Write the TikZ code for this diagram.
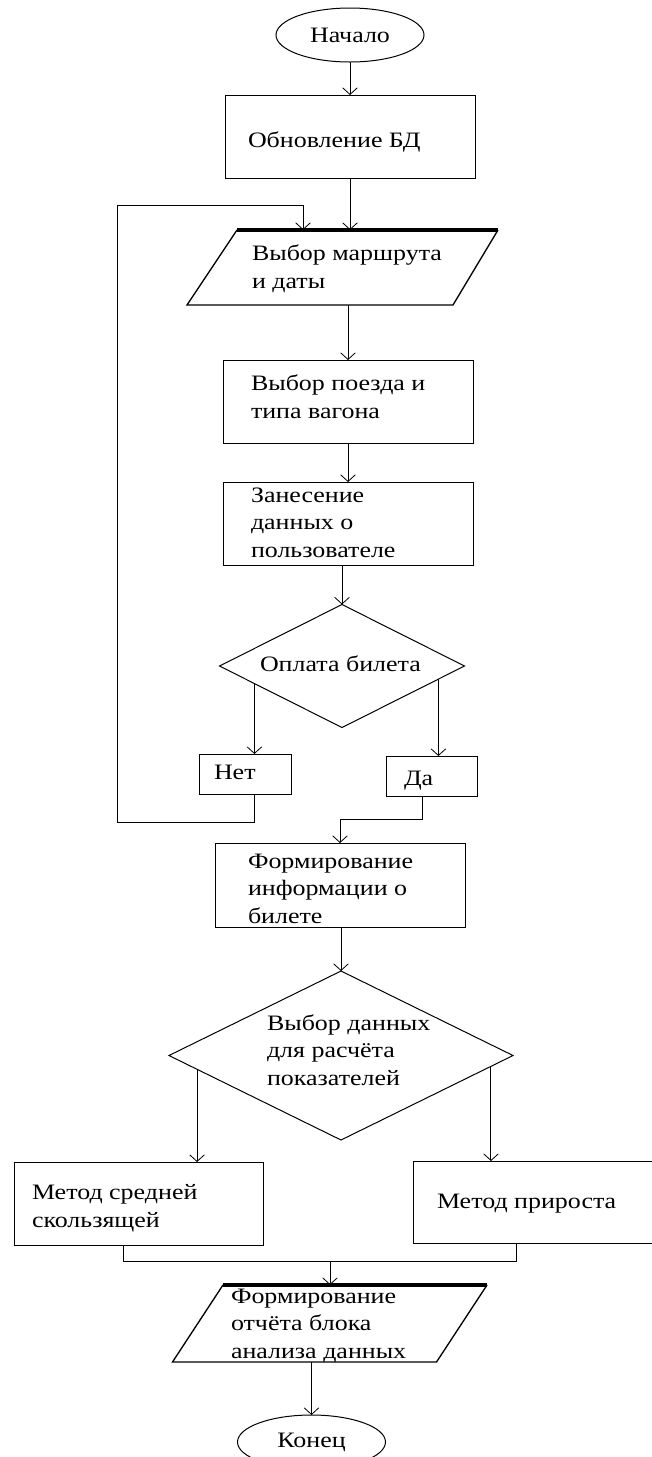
\documentclass[tikz,border=0pt]{standalone}
\usepackage{fontspec}
\setmainfont{Liberation Serif}
\newfontfamily\chartfont{Liberation Serif}[FakeStretch=1.18]
\usetikzlibrary{shapes.geometric,arrows.meta,calc}
\begin{document}
\begin{tikzpicture}[x=0.75pt,y=-0.75pt,
  line width=0.75pt,
  every node/.style={inner sep=0pt, outer sep=0pt},
  arr/.style={-{Straight Barb[length=5pt,width=11pt,line width=0.6pt]}},
  proc/.style={draw, rectangle, minimum width=187.5pt, minimum height=62.25pt},
  term/.style={draw, ellipse, minimum width=111pt, minimum height=40.5pt,
    font=\chartfont\fontsize{16.5}{20.6}\selectfont},
  cond/.style={draw, diamond},
  small/.style={draw, rectangle, minimum width=69pt, minimum height=30pt},
  lbl/.style={anchor=base west, align=left, font=\chartfont\fontsize{16.5}{20.6}\selectfont},
  iobox/.style={rectangle},
  iotop/.style={line width=3pt},
  ioside/.style={line width=1pt},
]
\useasboundingbox (0,0) rectangle (652,1457);

% --- blocks (multi-line labels are placed by the baseline of their last line) ---
\node[term] (start) at (350,35) {Начало};

\node[proc] (b1) at (350,136.5) {};
\node[lbl] (t1) at (248,147) {Обновление БД};

\node[iobox, minimum width=233.25pt, minimum height=56.25pt] (p1) at (342.5,267.5) {};
\draw[ioside] ($(p1.north west)+(50,0)$) -- (p1.south west)
  -- ($(p1.south east)+(-45,0)$) -- (p1.north east);
\draw[iotop] ($(p1.north west)+(50,0)$) -- (p1.north east);
\node[lbl] (t2) at (252,288) {Выбор маршрута\\и даты};

\node[proc] (b2) at (348,401.5) {};
\node[lbl] (t3) at (251,418) {Выбор поезда и\\типа вагона};

\node[proc] (b3) at (348,523.5) {};
\node[lbl] (t4) at (251,557) {Занесение\\данных о\\пользователе};

\node[cond, minimum width=183.75pt, minimum height=92.25pt] (d1) at (342,666) {};
\node[lbl] (t5) at (260,671) {Оплата билета};

\node[small] (n1) at (245,774) {};
\node[lbl] (t6) at (214,779) {Нет};

\node[small, minimum width=68.25pt] (y1) at (431.5,776) {};
\node[lbl] (t7) at (404,785) {Да};

\node[proc, minimum height=63pt] (b4) at (340,885) {};
\node[lbl] (t8) at (248,923) {Формирование\\информации о\\билете};

\node[cond, minimum width=258pt, minimum height=126.75pt] (d2) at (341,1055.5) {};
\node[lbl] (t9) at (267,1085) {Выбор данных\\для расчёта\\показателей};

\node[proc, minimum width=187pt] (m1) at (139.25,1203.5) {};
\node[lbl] (t10) at (32,1227) {Метод средней\\скользящей};

\node[proc, minimum height=61.5pt] (m2) at (538,1202) {};
\node[lbl] (t11) at (437,1208) {Метод прироста};

\node[iobox, minimum width=235.9pt, minimum height=57.75pt] (p2) at (329.75,1323.5) {};
\draw[ioside] ($(p2.north west)+(50.5,0)$) -- (p2.south west)
  -- ($(p2.south east)+(-50.5,0)$) -- (p2.north east);
\draw[iotop] ($(p2.north west)+(50.5,0)$) -- (p2.north east);
\node[lbl] (t12) at (231,1358) {Формирование\\отчёта блока\\анализа данных};

\node[term] (end) at (311.5,1442) {Конец};

% --- connectors ---
\draw[arr] (start.south) -- (b1.north);
\draw[arr] (b1.south) -- (b1.south |- p1.north);
\draw[arr] (b2.north |- p1.south) -- (b2.north);
\draw[arr] (b2.south) -- (b3.north);
\draw[arr] (d1.north |- b3.south) -- (d1.north);

\coordinate (dl) at ($(d1.west)!0.285!(d1.south)$);
\coordinate (dr) at ($(d1.east)!0.213!(d1.south)$);
\draw[arr] (dl) -- (dl |- n1.north);
\draw[arr] (dr) -- (dr |- y1.north);

% "no" branch returns to the route selection
\coordinate (loopcorner) at (117,205);
\draw[arr] (dl |- n1.south) -- ++(0,28) -| (loopcorner) -| (303,0 |- p1.north);

% "yes" branch continues
\draw[arr] ($(y1.south)+(-9.5,0)$) -- ++(0,23) -| (b4.north);

\draw[arr] (d2.north |- b4.south) -- (d2.north);

\coordinate (el) at ($(d2.west)!0.163!(d2.south)$);
\coordinate (er) at ($(d2.east)!0.128!(d2.south)$);
\draw[arr] (el) -- (el |- m1.north);
\draw[arr] (er) -- (er |- m2.north);

% both methods merge into the report
\draw ($(m1.south)+(-16.25,0)$) -- ++(0,16) -| ($(m2.south)+(-22,0)$);
\coordinate (join) at (330,1261);
\draw[arr] (join) -- (join |- p2.north);

\draw[arr] (end.north |- p2.south) -- (end.north);
\end{tikzpicture}
\end{document}
